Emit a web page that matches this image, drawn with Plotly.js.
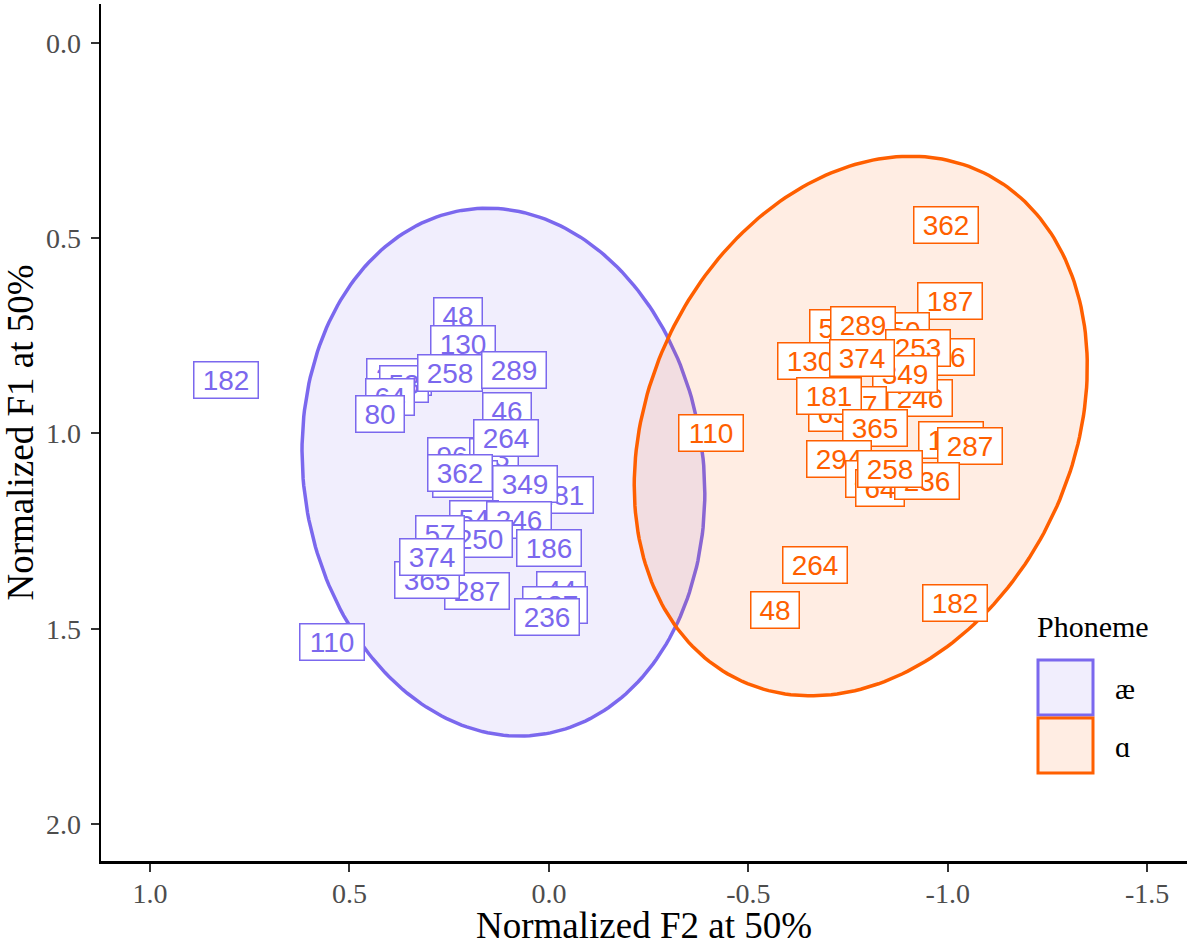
<!DOCTYPE html>
<html>
<head>
<meta charset="utf-8">
<script src="https://cdn.plot.ly/plotly-3.0.1.min.js"></script>
<style>
  html, body { margin: 0; padding: 0; background: #ffffff; }
  #chart { width: 1200px; height: 946px; }
</style>
</head>
<body>
<div id="chart"></div>
<script>
// Speaker vowel measurements (normalized formants at vowel midpoint)
const aeSpeaker = ["182","48","130","294","53","64","80","258","289","46","96","83","264","253","362","181","349","54","246","250","57","287","365","374","186","44","187","236","110"];
const aeF2 = [0.809,0.228,0.215,0.376,0.363,0.398,0.423,0.248,0.087,0.105,0.243,0.137,0.107,0.210,0.223,-0.031,0.060,0.188,0.075,0.173,0.273,0.180,0.305,0.293,-0.001,-0.031,-0.016,0.005,0.544];
const aeF1 = [0.863,0.699,0.771,0.855,0.873,0.907,0.950,0.845,0.837,0.942,1.058,1.060,1.012,1.117,1.101,1.158,1.129,1.219,1.222,1.270,1.257,1.403,1.375,1.316,1.293,1.401,1.439,1.470,1.534];

const ahSpeaker = ["362","187","54","50","289","130","46","253","246","349","374","57","63","181","365","110","186","287","294","44","64","236","258","264","48","182"];
const ahF2 = [-0.996,-1.006,-0.715,-0.893,-0.788,-0.655,-1.006,-0.926,-0.931,-0.893,-0.785,-0.785,-0.713,-0.703,-0.818,-0.407,-1.009,-1.056,-0.728,-0.805,-0.831,-0.948,-0.856,-0.668,-0.567,-1.019];
const ahF1 = [0.466,0.661,0.730,0.738,0.722,0.814,0.804,0.781,0.909,0.848,0.807,0.927,0.948,0.904,0.986,0.999,1.017,1.032,1.065,1.117,1.140,1.122,1.091,1.337,1.452,1.434];

// 95% ellipse summaries per phoneme: centre, spread along F2 and F1, correlation
const phonemes = ["æ", "ɑ"];
const ellipseF2Centre = [0.114, -0.782];
const ellipseF1Centre = [1.099, 0.981];
const ellipseF2Radius = [0.505, 0.568];
const ellipseF1Radius = [0.676, 0.691];
const ellipseCorr = [-0.08, 0.22];

// Axis ticks
const xTickVals = [1, 0.5, 0, -0.5, -1, -1.5];
const xTickText = ["1.0", "0.5", "0.0", "-0.5", "-1.0", "-1.5"];
const yTickVals = [0, 0.5, 1, 1.5, 2];
const yTickText = ["0.0", "0.5", "1.0", "1.5", "2.0"];

const lineColors = ["#7B68EE", "#FF5F00"];
const fillColors = ["rgba(123,104,238,0.11)", "rgba(255,95,0,0.11)"];

function ellipseOutline(i) {
  const xs = [], ys = [];
  const n = 240;
  const r = ellipseCorr[i];
  const s = Math.sqrt(1 - r * r);
  for (let k = 0; k <= n; k++) {
    const t = 2 * Math.PI * k / n;
    xs.push(ellipseF2Centre[i] + ellipseF2Radius[i] * Math.cos(t));
    ys.push(ellipseF1Centre[i] + ellipseF1Radius[i] * (r * Math.cos(t) + s * Math.sin(t)));
  }
  return { xs, ys };
}

const traces = phonemes.map((p, i) => {
  const e = ellipseOutline(i);
  return {
    type: "scatter", mode: "lines", x: e.xs, y: e.ys,
    fill: "toself", fillcolor: fillColors[i],
    line: { color: lineColors[i], width: 3.5 },
    name: p, showlegend: false, hoverinfo: "skip"
  };
});

function labelAnnotations(ids, xs, ys, color) {
  return ids.map((id, k) => ({
    x: xs[k], y: ys[k], xref: "x", yref: "y",
    text: id, showarrow: false,
    font: { family: "Liberation Sans, Arial, sans-serif", size: 28, color: color },
    bgcolor: "#ffffff", bordercolor: color, borderwidth: 1.5, borderpad: 1,
    width: 16 * id.length + 13, height: 33,
    xanchor: "center", yanchor: "middle"
  }));
}

// plot area in pixels, used to place the hand-drawn legend in paper units
const L = 101, R = 1187, T = 4, B = 861;
const px = v => (v - L) / (R - L);
const py = v => (B - v) / (B - T);

const legendShapes = phonemes.map((p, i) => ({
  type: "rect", xref: "paper", yref: "paper",
  x0: px(1038), x1: px(1093),
  y0: py(715 + 58 * i), y1: py(660 + 58 * i),
  line: { color: lineColors[i], width: 3 },
  fillcolor: fillColors[i], layer: "above"
}));
const legendLabels = phonemes.map((p, i) => ({
  xref: "paper", yref: "paper", x: px(1113), y: py(688 + 58 * i),
  xanchor: "left", yanchor: "middle", showarrow: false, text: p,
  font: { family: "Liberation Serif, Times New Roman, serif", size: 30, color: "#000000" }
}));
legendLabels.push({
  xref: "paper", yref: "paper", x: px(1035), y: py(626),
  xanchor: "left", yanchor: "middle", showarrow: false, text: "Phoneme",
  font: { family: "Liberation Serif, Times New Roman, serif", size: 30, color: "#000000" }
});

const annotations = []
  .concat(labelAnnotations(aeSpeaker, aeF2, aeF1, lineColors[0]))
  .concat(labelAnnotations(ahSpeaker, ahF2, ahF1, lineColors[1]))
  .concat(legendLabels);

const axisCommon = {
  showgrid: false, zeroline: false,
  showline: true, linecolor: "#000000", linewidth: 2.5,
  ticks: "outside", ticklen: 8, tickwidth: 2, tickcolor: "#333333",
  tickfont: { family: "Liberation Serif, Times New Roman, serif", size: 28, color: "#4D4D4D" },
  tickmode: "array", autorange: false
};

const layout = {
  width: 1200, height: 946,
  margin: { l: L, r: 1200 - R, t: T, b: 946 - B },
  paper_bgcolor: "#ffffff", plot_bgcolor: "#ffffff",
  showlegend: false,
  xaxis: Object.assign({}, axisCommon, {
    range: [1.123, -1.600], tickvals: xTickVals, ticktext: xTickText,
    ticklabelstandoff: -2,
    title: { text: "Normalized F2 at 50%", standoff: 8,
      font: { family: "Liberation Serif, Times New Roman, serif", size: 37, color: "#000000" } }
  }),
  yaxis: Object.assign({}, axisCommon, {
    range: [2.095, -0.1], tickvals: yTickVals, ticktext: yTickText,
    ticklabelstandoff: 4,
    title: { text: "Normalized F1 at 50%", standoff: 8,
      font: { family: "Liberation Serif, Times New Roman, serif", size: 37, color: "#000000" } }
  }),
  shapes: legendShapes,
  annotations: annotations
};

Plotly.newPlot("chart", traces, layout, { displayModeBar: false, staticPlot: true });
</script>
</body>
</html>
